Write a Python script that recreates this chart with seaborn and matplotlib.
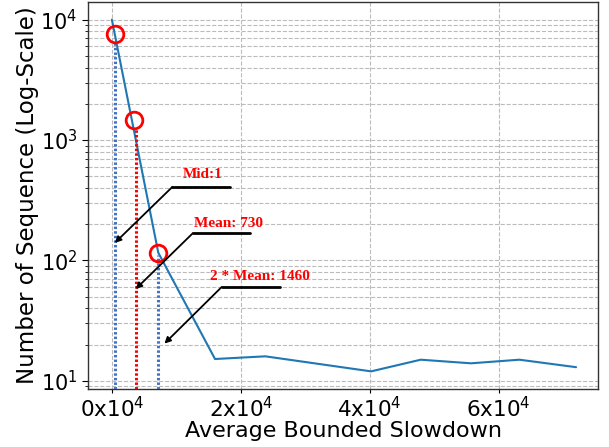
import numpy as np
import pandas as pd
import matplotlib
matplotlib.use('Agg')
import matplotlib.pyplot as plt
import matplotlib.ticker as mticker
import seaborn as sns

# Values
slowdown = [0, 7200, 16000, 23800, 40200, 47900, 55700, 63200, 72000]
num_seq = [10000, 116, 15.2, 16.0, 12.0, 15.0, 14.0, 15.0, 13.0]

# marked points (red circles) and the dotted guide lines below them
circle_x = [510, 3380, 7080]
circle_y = [7650, 1456, 116]
guide_x = [460, 3690, 7230]
guide_top = [6600, 1250, 112]
guide_colors = ['#4472C4', 'red', '#4472C4']

# annotations: label, label pos, underline start/end, arrow target
ann_labels = ['Mid:1', 'Mean: 730', '2 * Mean: 1460']
ann_text_x = [14080, 18050, 22970]
ann_text_y = [513, 201, 73.6]
ann_line_x0 = [9380, 12570, 17030]
ann_line_x1 = [18300, 21490, 26000]
ann_line_y = [408, 168.7, 60.2]
ann_target_x = [460, 3690, 8150]
ann_target_y = [140, 57.9, 20.4]

sns.set_style('ticks')

df = pd.DataFrame({'slowdown': slowdown, 'count': num_seq})

fig, ax = plt.subplots(figsize=(6.09, 4.47), dpi=100)
fig.subplots_adjust(left=0.1445, right=0.982, top=0.9955, bottom=0.1298)

sns.lineplot(data=df, x='slowdown', y='count', ax=ax, color='#1f77b4', linewidth=1.5)
ax.set_yscale('log')
ax.set_xlim(-3700, 75400)
ax.set_ylim(8.57, 14000)

# dotted guide lines
for gx, gt, gc in zip(guide_x, guide_top, guide_colors):
    ax.plot([gx, gx], [8.57, gt], color=gc, linewidth=2.2,
            linestyle=(0, (0.8, 0.7)), zorder=3)

ax.plot(circle_x, circle_y, linestyle='none', marker='o', markersize=12,
        markerfacecolor='none', markeredgecolor='red', markeredgewidth=2, zorder=4)

for i in range(len(ann_labels)):
    ax.plot([ann_line_x0[i], ann_line_x1[i]], [ann_line_y[i], ann_line_y[i]],
            color='black', linewidth=2, zorder=4)
    ax.annotate('', xy=(ann_target_x[i], ann_target_y[i]),
                xytext=(ann_line_x0[i], ann_line_y[i]),
                arrowprops=dict(arrowstyle='-|>', color='black', lw=1.3,
                                mutation_scale=9, shrinkA=0, shrinkB=0),
                zorder=4)
    ax.text(ann_text_x[i], ann_text_y[i], ann_labels[i], color='red',
            fontsize=11, fontweight='bold', family='Liberation Serif',
            ha='center', va='center', zorder=5)

ax.xaxis.set_major_locator(mticker.MultipleLocator(20000))
ax.xaxis.set_major_formatter(
    mticker.FuncFormatter(lambda v, p: '%dx$10^4$' % round(v / 1e4)))

ax.grid(True, which='major', linestyle='--', color='#bbbbbb', linewidth=0.8)
ax.grid(True, which='minor', axis='y', linestyle='--', color='#bbbbbb', linewidth=0.8)
ax.tick_params(axis='x', which='major', labelsize=15.5, length=3, pad=2, colors='black')
ax.tick_params(axis='y', which='major', labelsize=15, length=4, colors='black')
ax.tick_params(axis='y', which='minor', length=2.5, colors='black')

for s in ax.spines.values():
    s.set_color('#333333')
    s.set_linewidth(1)

ax.set_xlabel('Average Bounded Slowdown', fontsize=16, labelpad=0, color='black')
ax.set_ylabel('Number of Sequence (Log-Scale)', fontsize=16.5, labelpad=1, color='black')

fig.savefig('out.png', dpi=100)
